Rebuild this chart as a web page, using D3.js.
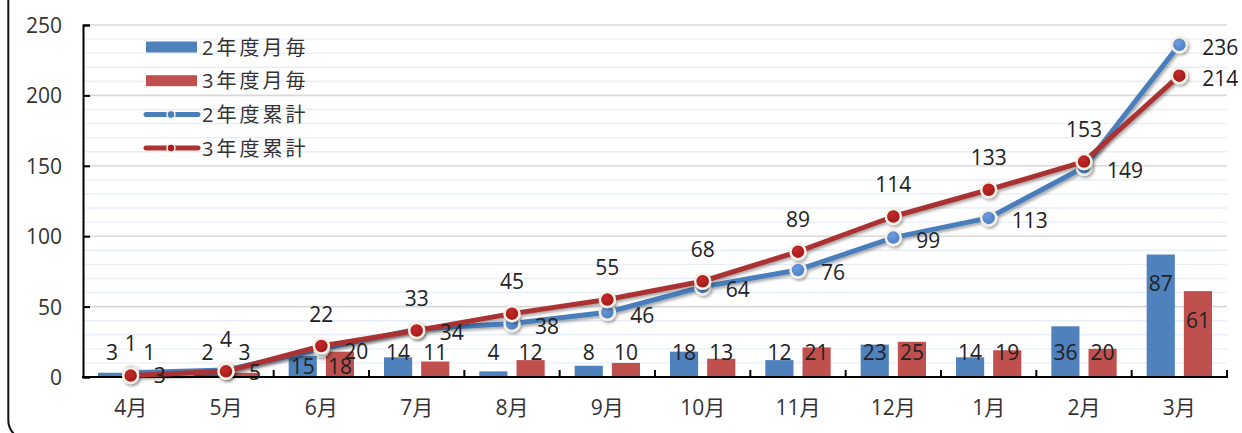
<!DOCTYPE html>
<html>
<head>
<meta charset="utf-8">
<script src="https://cdn.jsdelivr.net/npm/d3@7"></script>
<style>
  body { margin: 0; background: #fff; }
  text { font-family: "Open Sans", "Noto Sans CJK JP", sans-serif; }
</style>
</head>
<body>
<div class="svg-container"></div>
<script>
// chart data
const months = ['4月', '5月', '6月', '7月', '8月', '9月', '10月', '11月', '12月', '1月', '2月', '3月'];
const monthly2 = [3, 2, 15, 14, 4, 8, 18, 12, 23, 14, 36, 87];
const monthly3 = [1, 3, 18, 11, 12, 10, 13, 21, 25, 19, 20, 61];
const total2 = [3, 5, 20, 34, 38, 46, 64, 76, 99, 113, 149, 236];
const total3 = [1, 4, 22, 33, 45, 55, 68, 89, 114, 133, 153, 214];
const seriesNames = ['2年度月毎', '3年度月毎', '2年度累計', '3年度累計'];
const yTicks = [0, 50, 100, 150, 200, 250];

// size of the page
const W = 1242, H = 433;
const plot = { left: 83, right: 1227, top: 25, bottom: 377 };

const blue = '#4f81bd', red = '#c0504d';
const blueLine = '#4a7ebb', redLine = '#aa3333';

const svg = d3.select('.svg-container')
    .append('svg')
    .attr('width', W)
    .attr('height', H);

// drop shadow for lines and markers
const defs = svg.append('defs');
defs.append('filter')
    .attr('id', 'shadow')
    .attr('x', '-20%').attr('y', '-20%')
    .attr('width', '140%').attr('height', '140%')
    .append('feDropShadow')
    .attr('dx', 1.5).attr('dy', 2)
    .attr('stdDeviation', 1.6)
    .attr('flood-color', '#000')
    .attr('flood-opacity', 0.35);

const grad = (id, c1, c2) => {
    const g = defs.append('radialGradient').attr('id', id)
        .attr('cx', '40%').attr('cy', '35%').attr('r', '65%');
    g.append('stop').attr('offset', '0%').attr('stop-color', c1);
    g.append('stop').attr('offset', '100%').attr('stop-color', c2);
};
grad('gBlue', '#6b9be0', '#4a7fc0');
grad('gRed', '#c42a2a', '#a01818');

// outer frame (only the bottom-left corner is in view)
svg.append('rect')
    .attr('x', 8.3).attr('y', -40)
    .attr('width', 1400).attr('height', 480)
    .attr('rx', 20)
    .attr('fill', 'none')
    .attr('stroke', '#111')
    .attr('stroke-width', 2);

// scales
const xScale = d3.scaleBand()
    .domain(months)
    .range([plot.left, plot.right]);

const bw = xScale.bandwidth();
const xInner = d3.scaleBand()
    .domain(['a', 'b'])
    .range([15, bw - 15])
    .paddingInner(0.243);

const yScale = d3.scaleLinear()
    .domain([0, 250])
    .range([plot.bottom, plot.top]);

// minor and major gridlines
const minor = d3.range(10, 251, 10).filter(v => v % 50 !== 0);
svg.append('g')
    .selectAll('line')
    .data(minor)
    .join('line')
    .attr('x1', plot.left).attr('x2', plot.right)
    .attr('y1', d => yScale(d)).attr('y2', d => yScale(d))
    .attr('stroke', '#e8eef8')
    .attr('stroke-width', 1.4);

svg.append('g')
    .selectAll('line')
    .data(yTicks.slice(1))
    .join('line')
    .attr('x1', plot.left).attr('x2', plot.right)
    .attr('y1', d => yScale(d)).attr('y2', d => yScale(d))
    .attr('stroke', '#d9d9d9')
    .attr('stroke-width', 1.6);

// bars
const barData = months.map((m, i) => ({ m, a: monthly2[i], b: monthly3[i] }));
const groups = svg.append('g')
    .selectAll('g')
    .data(barData)
    .join('g')
    .attr('transform', d => `translate(${xScale(d.m)},0)`);

groups.append('rect')
    .attr('x', xInner('a'))
    .attr('width', xInner.bandwidth())
    .attr('y', d => yScale(d.a))
    .attr('height', d => yScale(0) - yScale(d.a))
    .attr('fill', blue);

groups.append('rect')
    .attr('x', xInner('b'))
    .attr('width', xInner.bandwidth())
    .attr('y', d => yScale(d.b))
    .attr('height', d => yScale(0) - yScale(d.b))
    .attr('fill', red);

// y axis
svg.append('g')
    .attr('transform', `translate(${plot.left},0)`)
    .call(d3.axisLeft(yScale).tickValues(yTicks).tickSize(-7).tickSizeOuter(-7).tickPadding(21))
    .call(g => g.selectAll('path, line').attr('stroke', '#000').attr('stroke-width', 2))
    .call(g => g.selectAll('text')
        .attr('font-size', 21)
        .attr('fill', '#333')
        .attr('dy', '0.36em')
        .attr('font-family', '"Open Sans", sans-serif'));

// x axis: line, ticks between months, labels under each month
const xAxis = svg.append('g');
xAxis.append('line')
    .attr('x1', plot.left - 1).attr('x2', plot.right + 1)
    .attr('y1', plot.bottom).attr('y2', plot.bottom)
    .attr('stroke', '#000').attr('stroke-width', 2);

xAxis.selectAll('.xtick')
    .data(months.slice(1).map(m => xScale(m)).concat([plot.right]))
    .join('line')
    .attr('class', 'xtick')
    .attr('x1', d => d).attr('x2', d => d)
    .attr('y1', plot.bottom).attr('y2', plot.bottom - 7)
    .attr('stroke', '#000').attr('stroke-width', 2);

xAxis.selectAll('.xlabel')
    .data(months)
    .join('text')
    .attr('class', 'xlabel')
    .attr('x', d => xScale(d) + bw / 2)
    .attr('y', 414.5)
    .attr('text-anchor', 'middle')
    .attr('font-size', 21)
    .attr('fill', '#333')
    .text(d => d);

// cumulative lines
const cx = (d, i) => xScale(months[i]) + bw / 2;
const line = d3.line()
    .x(cx)
    .y(d => yScale(d));

const drawSeries = (values, color, fill) => {
    const g = svg.append('g').attr('filter', 'url(#shadow)');
    g.append('path')
        .attr('d', line(values))
        .attr('fill', 'none')
        .attr('stroke', color)
        .attr('stroke-width', 5)
        .attr('stroke-linejoin', 'round');
    g.selectAll('circle')
        .data(values)
        .join('circle')
        .attr('cx', cx)
        .attr('cy', d => yScale(d))
        .attr('r', 7.5)
        .attr('fill', fill)
        .attr('stroke', '#f4f0e6')
        .attr('stroke-width', 2.5);
};
drawSeries(total2, blueLine, 'url(#gBlue)');
drawSeries(total3, redLine, 'url(#gRed)');

// data labels
const labels = svg.append('g')
    .attr('font-size', 21)
    .attr('fill', '#222');

// bar labels sit near the foot of the bars; tall bars get them inside
const nudge = { '6月': 14 };
const barLabelY = (v, m) => (v >= 50 ? yScale(v) + 29 : 352 + (nudge[m] || 0)) + 7.5;

labels.selectAll('.lab2')
    .data(barData)
    .join('text')
    .attr('class', 'lab2')
    .attr('text-anchor', 'middle')
    .attr('x', d => xScale(d.m) + xInner('a') + xInner.bandwidth() / 2)
    .attr('y', d => barLabelY(d.a, d.m))
    .text(d => d.a);

labels.selectAll('.lab3')
    .data(barData)
    .join('text')
    .attr('class', 'lab3')
    .attr('text-anchor', 'middle')
    .attr('x', d => xScale(d.m) + xInner('b') + xInner.bandwidth() / 2)
    .attr('y', d => barLabelY(d.b, d.m))
    .text(d => d.b);

// 2年度累計 labels to the right of the points
labels.selectAll('.tot2')
    .data(total2)
    .join('text')
    .attr('class', 'tot2')
    .attr('x', (d, i) => cx(d, i) + 23)
    .attr('y', d => yScale(d) + 3 + 7.5)
    .text(d => d);

// 3年度累計 labels above the points, the last one to the right
labels.selectAll('.tot3')
    .data(total3)
    .join('text')
    .attr('class', 'tot3')
    .attr('text-anchor', (d, i) => i === total3.length - 1 ? 'start' : 'middle')
    .attr('x', (d, i) => i === total3.length - 1 ? cx(d, i) + 23 : cx(d, i))
    .attr('y', (d, i) => yScale(d) + (i === total3.length - 1 ? 3 : -32) + 7.5)
    .text(d => d);

// legend
const legend = svg.append('g');
const rowY = i => 47 + i * 33.7;

legend.selectAll('.sw')
    .data(seriesNames.slice(0, 2))
    .join('rect')
    .attr('class', 'sw')
    .attr('x', 146).attr('width', 51)
    .attr('y', (d, i) => rowY(i) - 5.5).attr('height', 11)
    .attr('fill', (d, i) => i === 0 ? blue : red);

const lineRows = legend.selectAll('.lr')
    .data(seriesNames.slice(2))
    .join('g')
    .attr('class', 'lr')
    .attr('transform', (d, i) => `translate(0,${rowY(i + 2)})`);

lineRows.append('line')
    .attr('x1', 146).attr('x2', 198)
    .attr('stroke', (d, i) => i === 0 ? blueLine : redLine)
    .attr('stroke-width', 5)
    .attr('stroke-linecap', 'round');

lineRows.append('circle')
    .attr('cx', 171).attr('r', 4)
    .attr('fill', (d, i) => i === 0 ? blueLine : '#a81c1c')
    .attr('stroke', '#f4f0e6')
    .attr('stroke-width', 1.5);

legend.selectAll('.lt')
    .data(seriesNames)
    .join('text')
    .attr('class', 'lt')
    .attr('x', 202)
    .attr('y', (d, i) => rowY(i) + 7.5)
    .attr('font-size', 20)
    .attr('letter-spacing', 3)
    .attr('fill', '#333')
    .text(d => d);
</script>
</body>
</html>
